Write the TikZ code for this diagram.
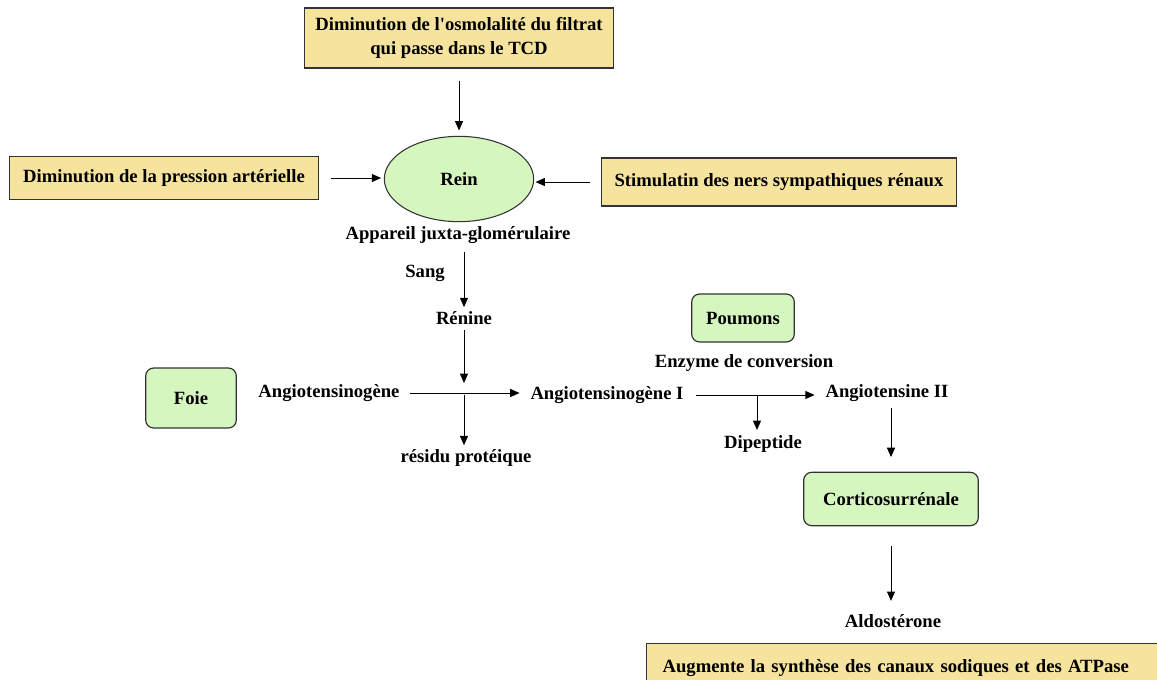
\documentclass[12pt,tikz,border=0pt]{standalone}
\usepackage{fontspec}
\setmainfont{Liberation Serif}
\usetikzlibrary{shapes}
\usetikzlibrary{positioning}
\usetikzlibrary{arrows.meta}
\definecolor{jaune}{RGB}{246,228,158}
\definecolor{vert}{RGB}{214,246,191}
\tikzset{
    boxj/.style = {rectangle, draw=black!80, line width=0.9pt, fill=jaune, align=center, font=\fontsize{14}{17}\selectfont\bfseries},
    boxv/.style = {rectangle, rounded corners=6pt, draw=black!80, line width=0.9pt, fill=vert, align=center, font=\fontsize{14}{17}\selectfont\bfseries},
    ellv/.style = {ellipse, draw=black!80, line width=0.8pt, fill=vert, align=center, font=\fontsize{14}{17}\selectfont\bfseries},
    txt/.style = {align=center, font=\fontsize{14}{17}\selectfont\bfseries, inner sep=1pt},
    fleche/.style = {-{Triangle[length=7pt,width=6pt]}, line width=0.75pt, black},
}

\begin{document}
\begin{tikzpicture}[x=0.75pt, y=-0.75pt]
  \useasboundingbox (0,0) rectangle (1157,679);
  \clip (0,0) rectangle (1157,679);
  % sources
  \node[boxj, minimum width=232pt, minimum height=45pt] (osmo) at (459,38) {Diminution de l\textquotesingle osmolalité du filtrat\\[1.5pt]qui passe dans le TCD};
  \node[boxj, minimum width=232pt, minimum height=32pt] (pression) at (164,178) {Diminution de la pression artérielle};
  \node[boxj, minimum width=266pt, minimum height=36pt] (nerfs) at (779,182) {Stimulatin des ners sympathiques rénaux};
  \node[ellv, minimum width=112pt, minimum height=64pt] (rein) at (459,179) {Rein};
  \node[txt] (appareil) at (458,235) {Appareil juxta-glomérulaire};
  \node[txt] (sang) at (425,273) {Sang};
  \node[txt] (renine) at (464,318) {Rénine};
  % organes
  \node[boxv, minimum width=68pt, minimum height=45pt] (foie) at (191,398) {Foie};
  \node[boxv, minimum width=77pt, minimum height=36pt] (poumons) at (743,318) {Poumons};
  \node[txt] (enzyme) at (744,363) {Enzyme de conversion};
  % chaine
  \node[txt] (agt) at (329,393) {Angiotensinogène};
  \node[txt] (agtI) at (607,395) {Angiotensinogène I};
  \node[txt] (atII) at (887,393) {Angiotensine II};
  \node[txt] (residu) at (466,458) {résidu protéique};
  \node[txt] (dipeptide) at (763,444) {Dipeptide};
  \node[boxv, minimum width=131pt, minimum height=40pt] (cortico) at (891,499) {Corticosurrénale};
  \node[txt] (aldo) at (893,621) {Aldostérone};
  \node[boxj, anchor=north west, minimum height=36pt, text width=385pt, align=left, inner xsep=12pt] (synthese) at (646,643) {Augmente la synthèse des canaux sodiques et des ATPase};
  \coordinate (j1) at (464,395);
  \coordinate (j2) at (757,396);
  % fleches
  \draw[fleche, shorten <=9pt, shorten >=4pt] (osmo.south) -- (rein.north);
  \draw[fleche, shorten <=9pt, shorten >=2pt] (pression.east) -- (rein.west |- pression.east);
  \draw[fleche, shorten <=8pt, shorten >=1pt] (nerfs.west) -- (rein.east |- nerfs.west);
  \draw[fleche, shorten <=5pt, shorten >=2pt] (appareil.south -| renine.north) -- (renine.north);
  \draw[fleche, shorten <=3pt, shorten >=9pt] (renine.south) -- (j1);
  \draw[fleche, shorten <=7pt, shorten >=7pt] (agt.east) -- (agtI.west |- agt.east);
  \draw[fleche, shorten >=2pt] (j1) -- (j1 |- residu.north);
  \draw[fleche, shorten <=8pt, shorten >=7pt] (agtI.east) -- (atII.west |- agtI.east);
  \draw[fleche, shorten >=3pt] (j2) -- (j2 |- dipeptide.north);
  \draw[fleche, shorten <=4pt, shorten >=11pt] (atII.south -| cortico.north) -- (cortico.north);
  \draw[fleche, shorten <=15pt, shorten >=9pt] (cortico.south) -- (cortico.south |- aldo.north);
\end{tikzpicture}
\end{document}
